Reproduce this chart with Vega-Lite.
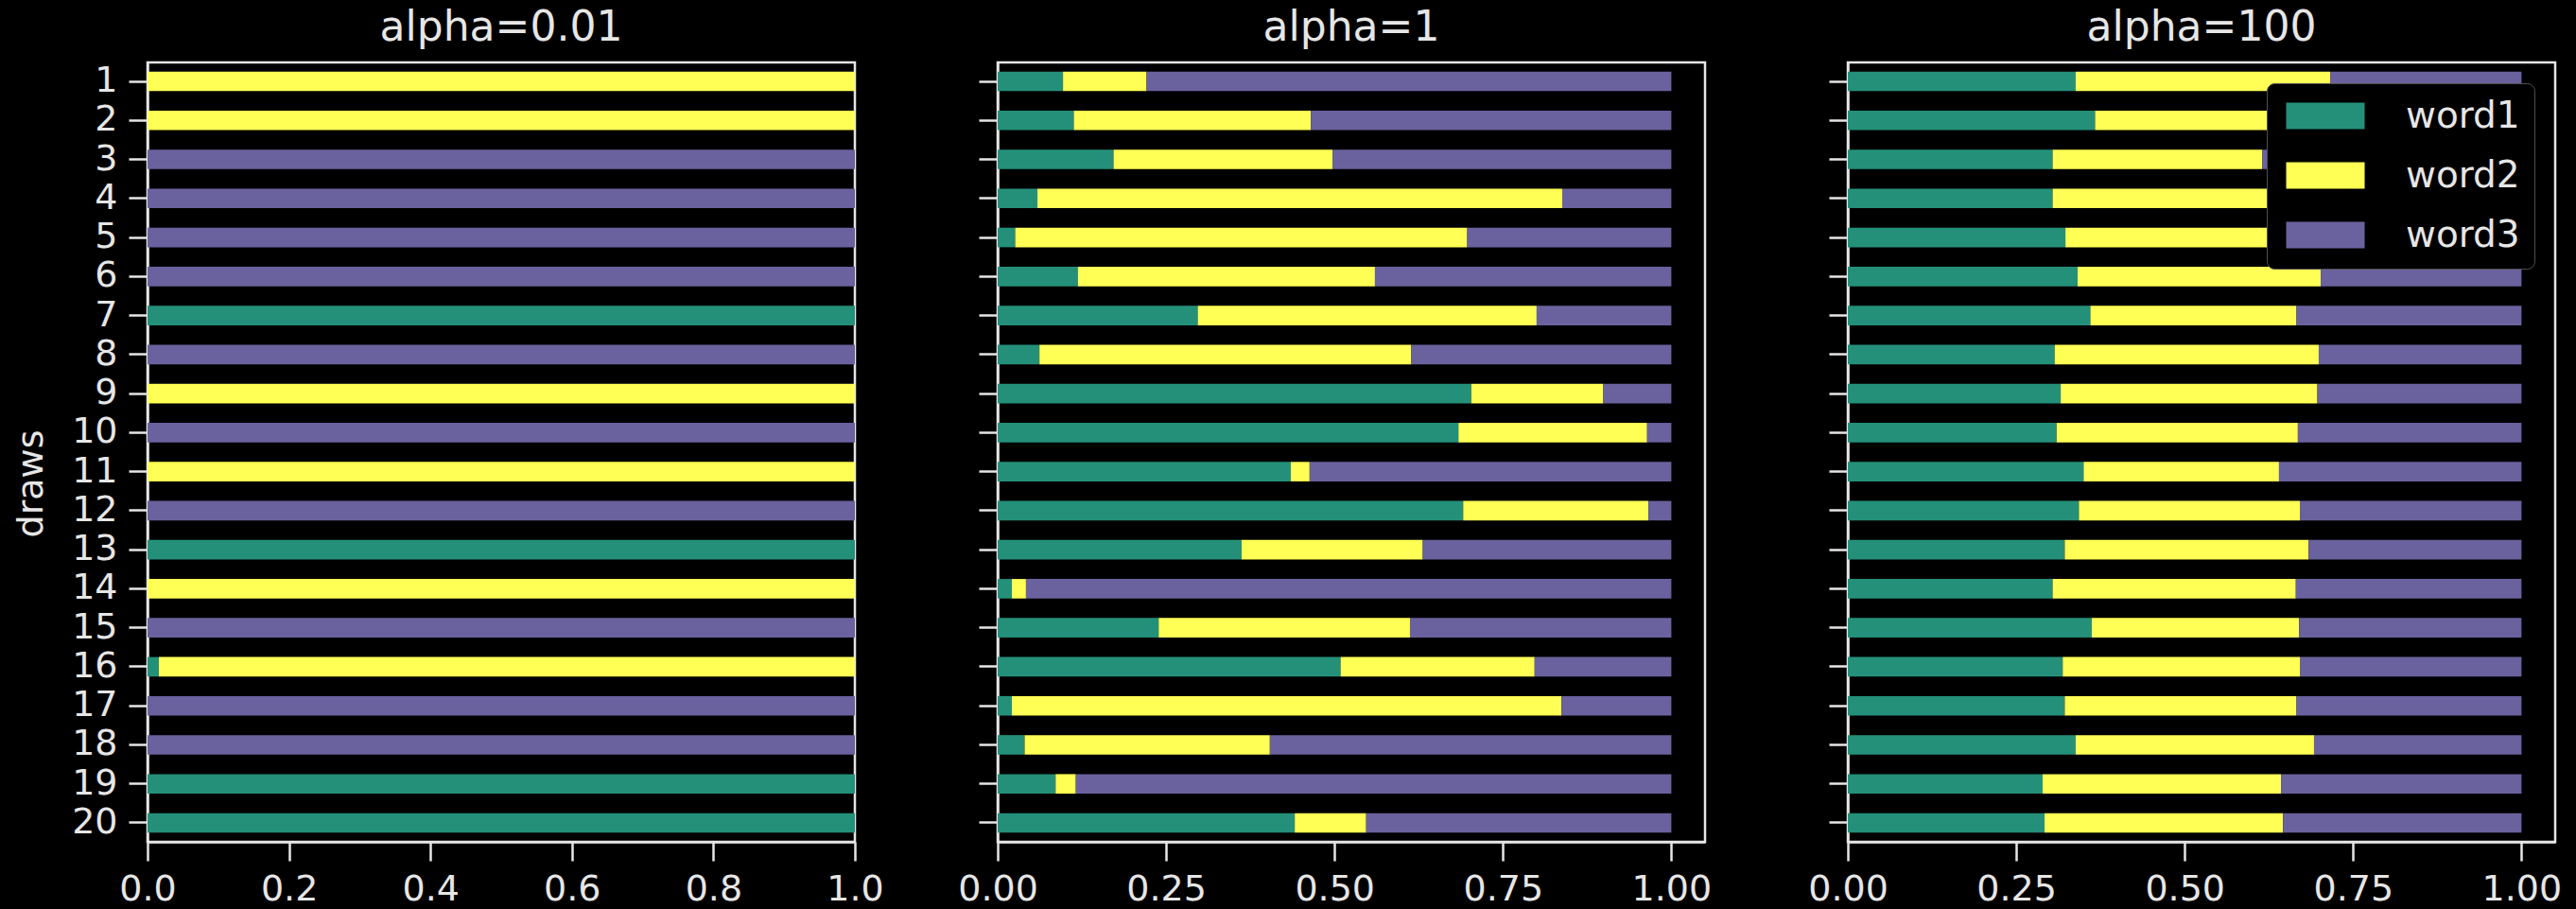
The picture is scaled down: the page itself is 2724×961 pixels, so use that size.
{
  "$schema": "https://vega.github.io/schema/vega-lite/v6.json",
  "background": "#000000",
  "padding": {"left": 13, "top": 6, "right": 18, "bottom": 0},
  "bounds": "flush",
  "spacing": 151,
  "resolve": {"scale": {"color": "independent", "x": "independent"}, "legend": {"color": "independent"}},
  "config": {
    "font": "DejaVu Sans",
    "view": {"stroke": "#e6e6e6", "strokeWidth": 2.5},
    "axis": {
      "domainColor": "#e6e6e6", "domainWidth": 2.5,
      "tickColor": "#e6e6e6", "tickWidth": 2.5, "tickSize": 20,
      "labelColor": "#e6e6e6", "labelFontSize": 38, "labelFont": "DejaVu Sans", "labelPadding": 12,
      "grid": false, "titleColor": "#e6e6e6", "titleFontSize": 38, "titleFontWeight": "normal", "titleFont": "DejaVu Sans",
      "labelFlush": false, "labelOverlap": false, "labelBound": false
    },
    "axisX": {"labelPadding": 11},
    "title": {"color": "#e6e6e6", "fontSize": 44, "fontWeight": "normal", "offset": 14, "font": "DejaVu Sans", "anchor": "middle"}
  },
  "data": {"values": [
    {"a": "0.01", "d": 1, "w": "word2", "v": 1},
    {"a": "0.01", "d": 2, "w": "word2", "v": 1},
    {"a": "0.01", "d": 3, "w": "word3", "v": 1},
    {"a": "0.01", "d": 4, "w": "word3", "v": 1},
    {"a": "0.01", "d": 5, "w": "word3", "v": 1},
    {"a": "0.01", "d": 6, "w": "word3", "v": 1},
    {"a": "0.01", "d": 7, "w": "word1", "v": 1},
    {"a": "0.01", "d": 8, "w": "word3", "v": 1},
    {"a": "0.01", "d": 9, "w": "word2", "v": 1},
    {"a": "0.01", "d": 10, "w": "word3", "v": 1},
    {"a": "0.01", "d": 11, "w": "word2", "v": 1},
    {"a": "0.01", "d": 12, "w": "word3", "v": 1},
    {"a": "0.01", "d": 13, "w": "word1", "v": 1},
    {"a": "0.01", "d": 14, "w": "word2", "v": 1},
    {"a": "0.01", "d": 15, "w": "word3", "v": 1},
    {"a": "0.01", "d": 16, "w": "word1", "v": 0.016},
    {"a": "0.01", "d": 16, "w": "word2", "v": 0.984},
    {"a": "0.01", "d": 17, "w": "word3", "v": 1},
    {"a": "0.01", "d": 18, "w": "word3", "v": 1},
    {"a": "0.01", "d": 19, "w": "word1", "v": 1},
    {"a": "0.01", "d": 20, "w": "word1", "v": 1},

    {"a": "1", "d": 1, "w": "word1", "v": 0.097}, {"a": "1", "d": 1, "w": "word2", "v": 0.124}, {"a": "1", "d": 1, "w": "word3", "v": 0.779},
    {"a": "1", "d": 2, "w": "word1", "v": 0.113}, {"a": "1", "d": 2, "w": "word2", "v": 0.352}, {"a": "1", "d": 2, "w": "word3", "v": 0.535},
    {"a": "1", "d": 3, "w": "word1", "v": 0.172}, {"a": "1", "d": 3, "w": "word2", "v": 0.325}, {"a": "1", "d": 3, "w": "word3", "v": 0.503},
    {"a": "1", "d": 4, "w": "word1", "v": 0.059}, {"a": "1", "d": 4, "w": "word2", "v": 0.779}, {"a": "1", "d": 4, "w": "word3", "v": 0.162},
    {"a": "1", "d": 5, "w": "word1", "v": 0.026}, {"a": "1", "d": 5, "w": "word2", "v": 0.671}, {"a": "1", "d": 5, "w": "word3", "v": 0.303},
    {"a": "1", "d": 6, "w": "word1", "v": 0.119}, {"a": "1", "d": 6, "w": "word2", "v": 0.441}, {"a": "1", "d": 6, "w": "word3", "v": 0.440},
    {"a": "1", "d": 7, "w": "word1", "v": 0.297}, {"a": "1", "d": 7, "w": "word2", "v": 0.503}, {"a": "1", "d": 7, "w": "word3", "v": 0.200},
    {"a": "1", "d": 8, "w": "word1", "v": 0.062}, {"a": "1", "d": 8, "w": "word2", "v": 0.552}, {"a": "1", "d": 8, "w": "word3", "v": 0.386},
    {"a": "1", "d": 9, "w": "word1", "v": 0.703}, {"a": "1", "d": 9, "w": "word2", "v": 0.196}, {"a": "1", "d": 9, "w": "word3", "v": 0.101},
    {"a": "1", "d": 10, "w": "word1", "v": 0.684}, {"a": "1", "d": 10, "w": "word2", "v": 0.280}, {"a": "1", "d": 10, "w": "word3", "v": 0.036},
    {"a": "1", "d": 11, "w": "word1", "v": 0.435}, {"a": "1", "d": 11, "w": "word2", "v": 0.028}, {"a": "1", "d": 11, "w": "word3", "v": 0.537},
    {"a": "1", "d": 12, "w": "word1", "v": 0.691}, {"a": "1", "d": 12, "w": "word2", "v": 0.275}, {"a": "1", "d": 12, "w": "word3", "v": 0.034},
    {"a": "1", "d": 13, "w": "word1", "v": 0.362}, {"a": "1", "d": 13, "w": "word2", "v": 0.269}, {"a": "1", "d": 13, "w": "word3", "v": 0.369},
    {"a": "1", "d": 14, "w": "word1", "v": 0.021}, {"a": "1", "d": 14, "w": "word2", "v": 0.021}, {"a": "1", "d": 14, "w": "word3", "v": 0.958},
    {"a": "1", "d": 15, "w": "word1", "v": 0.239}, {"a": "1", "d": 15, "w": "word2", "v": 0.373}, {"a": "1", "d": 15, "w": "word3", "v": 0.388},
    {"a": "1", "d": 16, "w": "word1", "v": 0.509}, {"a": "1", "d": 16, "w": "word2", "v": 0.288}, {"a": "1", "d": 16, "w": "word3", "v": 0.203},
    {"a": "1", "d": 17, "w": "word1", "v": 0.021}, {"a": "1", "d": 17, "w": "word2", "v": 0.816}, {"a": "1", "d": 17, "w": "word3", "v": 0.163},
    {"a": "1", "d": 18, "w": "word1", "v": 0.040}, {"a": "1", "d": 18, "w": "word2", "v": 0.364}, {"a": "1", "d": 18, "w": "word3", "v": 0.596},
    {"a": "1", "d": 19, "w": "word1", "v": 0.086}, {"a": "1", "d": 19, "w": "word2", "v": 0.030}, {"a": "1", "d": 19, "w": "word3", "v": 0.884},
    {"a": "1", "d": 20, "w": "word1", "v": 0.441}, {"a": "1", "d": 20, "w": "word2", "v": 0.106}, {"a": "1", "d": 20, "w": "word3", "v": 0.453},

    {"a": "100", "d": 1, "w": "word1", "v": 0.338}, {"a": "100", "d": 1, "w": "word2", "v": 0.378}, {"a": "100", "d": 1, "w": "word3", "v": 0.284},
    {"a": "100", "d": 2, "w": "word1", "v": 0.367}, {"a": "100", "d": 2, "w": "word2", "v": 0.313}, {"a": "100", "d": 2, "w": "word3", "v": 0.320},
    {"a": "100", "d": 3, "w": "word1", "v": 0.304}, {"a": "100", "d": 3, "w": "word2", "v": 0.311}, {"a": "100", "d": 3, "w": "word3", "v": 0.385},
    {"a": "100", "d": 4, "w": "word1", "v": 0.304}, {"a": "100", "d": 4, "w": "word2", "v": 0.356}, {"a": "100", "d": 4, "w": "word3", "v": 0.340},
    {"a": "100", "d": 5, "w": "word1", "v": 0.323}, {"a": "100", "d": 5, "w": "word2", "v": 0.347}, {"a": "100", "d": 5, "w": "word3", "v": 0.330},
    {"a": "100", "d": 6, "w": "word1", "v": 0.341}, {"a": "100", "d": 6, "w": "word2", "v": 0.361}, {"a": "100", "d": 6, "w": "word3", "v": 0.298},
    {"a": "100", "d": 7, "w": "word1", "v": 0.360}, {"a": "100", "d": 7, "w": "word2", "v": 0.306}, {"a": "100", "d": 7, "w": "word3", "v": 0.334},
    {"a": "100", "d": 8, "w": "word1", "v": 0.307}, {"a": "100", "d": 8, "w": "word2", "v": 0.392}, {"a": "100", "d": 8, "w": "word3", "v": 0.301},
    {"a": "100", "d": 9, "w": "word1", "v": 0.316}, {"a": "100", "d": 9, "w": "word2", "v": 0.381}, {"a": "100", "d": 9, "w": "word3", "v": 0.303},
    {"a": "100", "d": 10, "w": "word1", "v": 0.310}, {"a": "100", "d": 10, "w": "word2", "v": 0.358}, {"a": "100", "d": 10, "w": "word3", "v": 0.332},
    {"a": "100", "d": 11, "w": "word1", "v": 0.350}, {"a": "100", "d": 11, "w": "word2", "v": 0.290}, {"a": "100", "d": 11, "w": "word3", "v": 0.360},
    {"a": "100", "d": 12, "w": "word1", "v": 0.343}, {"a": "100", "d": 12, "w": "word2", "v": 0.328}, {"a": "100", "d": 12, "w": "word3", "v": 0.329},
    {"a": "100", "d": 13, "w": "word1", "v": 0.322}, {"a": "100", "d": 13, "w": "word2", "v": 0.362}, {"a": "100", "d": 13, "w": "word3", "v": 0.316},
    {"a": "100", "d": 14, "w": "word1", "v": 0.304}, {"a": "100", "d": 14, "w": "word2", "v": 0.361}, {"a": "100", "d": 14, "w": "word3", "v": 0.335},
    {"a": "100", "d": 15, "w": "word1", "v": 0.362}, {"a": "100", "d": 15, "w": "word2", "v": 0.308}, {"a": "100", "d": 15, "w": "word3", "v": 0.330},
    {"a": "100", "d": 16, "w": "word1", "v": 0.319}, {"a": "100", "d": 16, "w": "word2", "v": 0.352}, {"a": "100", "d": 16, "w": "word3", "v": 0.329},
    {"a": "100", "d": 17, "w": "word1", "v": 0.322}, {"a": "100", "d": 17, "w": "word2", "v": 0.344}, {"a": "100", "d": 17, "w": "word3", "v": 0.334},
    {"a": "100", "d": 18, "w": "word1", "v": 0.338}, {"a": "100", "d": 18, "w": "word2", "v": 0.354}, {"a": "100", "d": 18, "w": "word3", "v": 0.308},
    {"a": "100", "d": 19, "w": "word1", "v": 0.289}, {"a": "100", "d": 19, "w": "word2", "v": 0.354}, {"a": "100", "d": 19, "w": "word3", "v": 0.357},
    {"a": "100", "d": 20, "w": "word1", "v": 0.292}, {"a": "100", "d": 20, "w": "word2", "v": 0.354}, {"a": "100", "d": 20, "w": "word3", "v": 0.354}
  ]},
  "hconcat": [
    {
      "width": 748, "height": 824,
      "title": {"text": "alpha=0.01"},
      "transform": [{"filter": "datum.a === '0.01'"}],
      "mark": {"type": "bar"},
      "encoding": {
        "y": {"field": "d", "type": "ordinal", "scale": {"paddingInner": 0.5, "paddingOuter": 0.235},
              "axis": {"title": "draws", "titlePadding": 23, "titleY": 445}},
        "x": {"field": "v", "type": "quantitative", "stack": "zero", "scale": {"domain": [0, 1], "nice": false},
              "axis": {"title": null, "values": [0, 0.2, 0.4, 0.6, 0.8, 1.0], "format": ".1f"}},
        "color": {"field": "w", "type": "nominal", "scale": {"domain": ["word1", "word2", "word3"], "range": ["#24907a", "#ffff55", "#6a629e"]}, "legend": null},
        "order": {"field": "w", "sort": "ascending"}
      }
    },
    {
      "width": 748, "height": 824,
      "title": {"text": "alpha=1"},
      "transform": [{"filter": "datum.a === '1'"}],
      "mark": {"type": "bar"},
      "encoding": {
        "y": {"field": "d", "type": "ordinal", "scale": {"paddingInner": 0.5, "paddingOuter": 0.235},
              "axis": {"title": null, "labels": false}},
        "x": {"field": "v", "type": "quantitative", "stack": "zero", "scale": {"domain": [0, 1.05], "nice": false},
              "axis": {"title": null, "values": [0, 0.25, 0.5, 0.75, 1.0], "format": ".2f"}},
        "color": {"field": "w", "type": "nominal", "scale": {"domain": ["word1", "word2", "word3"], "range": ["#24907a", "#ffff55", "#6a629e"]}, "legend": null},
        "order": {"field": "w", "sort": "ascending"}
      }
    },
    {
      "width": 748, "height": 824,
      "title": {"text": "alpha=100"},
      "transform": [{"filter": "datum.a === '100'"}],
      "mark": {"type": "bar"},
      "encoding": {
        "y": {"field": "d", "type": "ordinal", "scale": {"paddingInner": 0.5, "paddingOuter": 0.235},
              "axis": {"title": null, "labels": false}},
        "x": {"field": "v", "type": "quantitative", "stack": "zero", "scale": {"domain": [0, 1.05], "nice": false},
              "axis": {"title": null, "values": [0, 0.25, 0.5, 0.75, 1.0], "format": ".2f"}},
        "color": {"field": "w", "type": "nominal", "scale": {"domain": ["word1", "word2", "word3"], "range": ["#24907a", "#ffff55", "#6a629e"]},
                  "legend": {"orient": "top-right", "offset": 22, "title": null,
                             "symbolType": "M-1,-1H4.93V1H-1Z", "symbolSize": 784, "symbolStrokeWidth": 0, "symbolOpacity": 1,
                             "labelFontSize": 39, "labelColor": "#e6e6e6", "labelFont": "DejaVu Sans", "labelOffset": 93,
                             "rowPadding": 23, "padding": 15, "fillColor": "#000000", "strokeColor": "#505050", "cornerRadius": 8}},
        "order": {"field": "w", "sort": "ascending"}
      }
    }
  ]
}
